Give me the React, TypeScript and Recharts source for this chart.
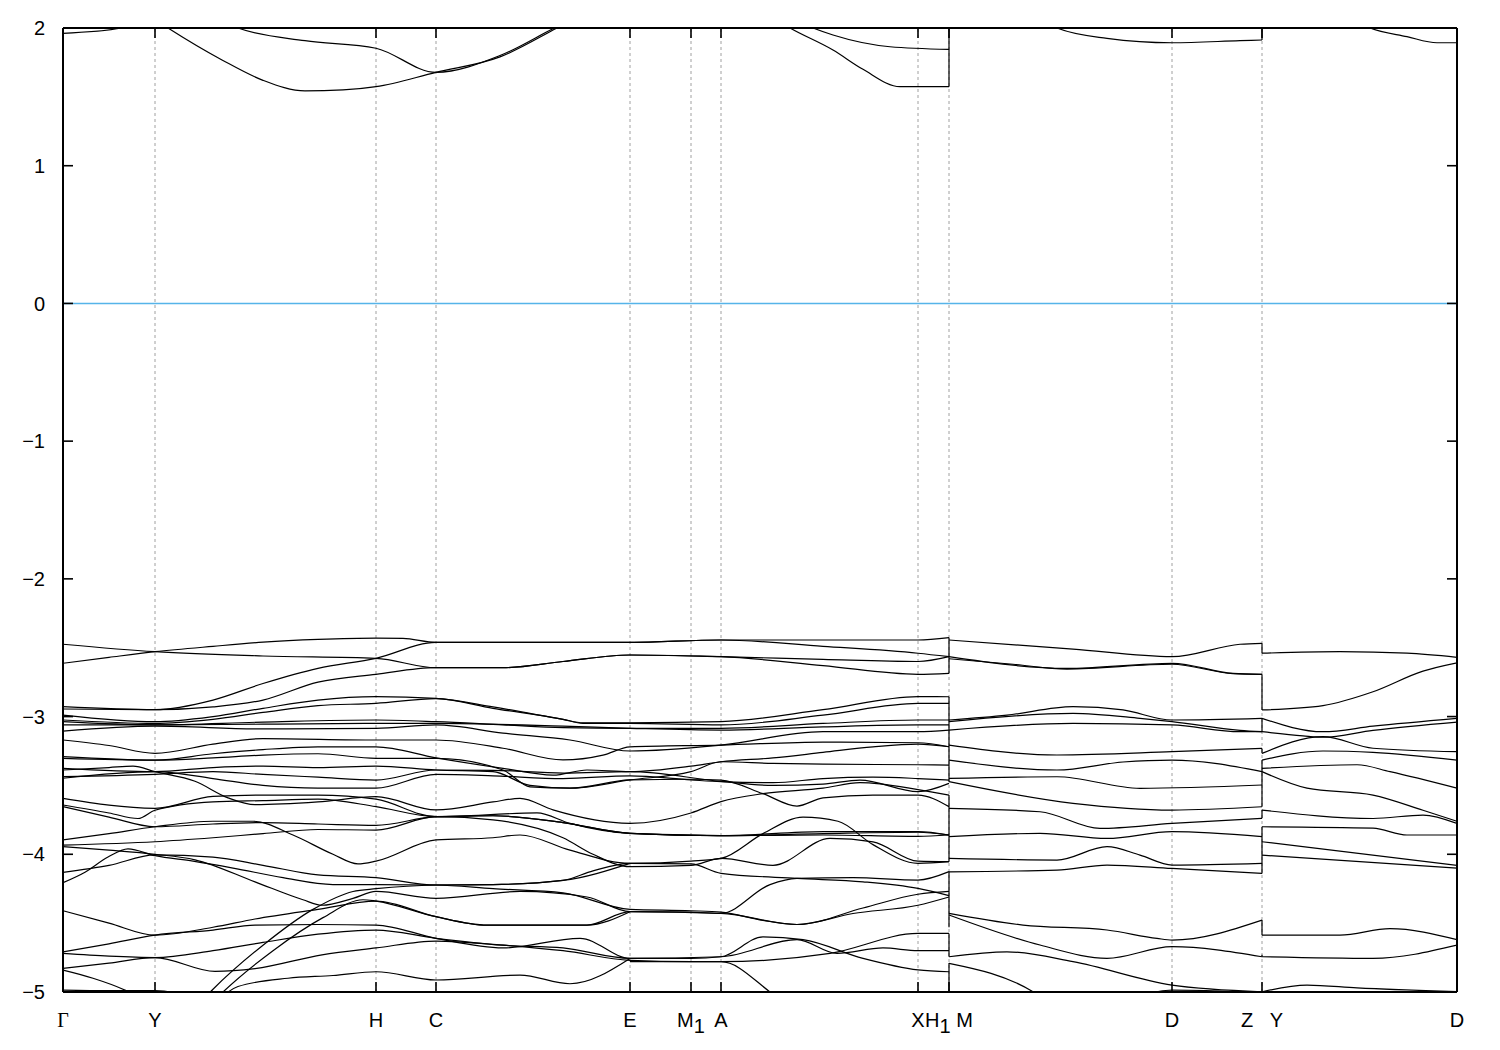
import React from "react";
import { LineChart, Line, XAxis, YAxis, ReferenceLine } from "recharts";

// ---- layout ----
const W = 1484;
const H = 1034;
const PL = 55;
const PR = 1449;
const PT = 20;
const PB = 984;
const FONT = "'Liberation Sans', Arial, Helvetica, sans-serif";

// ---- axes ----
const kTicks = [0, 92, 313, 373, 567, 628, 658, 855, 886, 1109, 1199, 1394];
const kLabels = ["Γ", "Y", "H", "C", "E", "M_1", "A", "X", "H_1 M", "D", "Z\u00a0\u00a0\u00a0Y", "D"];
const gridK = [92, 313, 373, 567, 628, 658, 855, 886, 1109, 1199];
const eTicks = [-5, -4, -3, -2, -1, 0, 1, 2];

// ---- conduction bands ----
const cbA = [[0, 1.961], [59, 2.0], [120, 2.15]];
const cbB = [[80, 2.12], [105, 2.0], [159, 1.768], [200, 1.62], [242, 1.543], [280, 1.55], [313, 1.574], [373, 1.678], [437, 1.79], [494, 2.0], [520, 2.1]];
const cbC = [[150, 2.08], [175, 2.0], [242, 1.908], [313, 1.853], [373, 1.678], [437, 1.8], [494, 2.01], [520, 2.1]];
const cbD = [[700, 2.12], [727, 2.0], [770, 1.84], [800, 1.7], [837, 1.574], [886, 1.574]];
const cbE = [[725, 2.08], [750, 2.0], [770, 1.949], [827, 1.864], [886, 1.845]];
const cbF = [[886, 2.4], [960, 2.15], [994, 2.0], [1044, 1.925], [1109, 1.893], [1177, 1.908], [1199, 1.913]];
const cbG = [[1199, 2.5], [1270, 2.15], [1307, 2.0], [1344, 1.937], [1374, 1.893], [1394, 1.893]];

// ---- valence bands, Γ → H1 ----
const vTA = [[0, -2.475], [92, -2.529], [200, -2.56], [313, -2.577], [373, -2.645], [440, -2.645], [500, -2.6], [567, -2.553], [658, -2.565], [760, -2.585], [855, -2.6], [886, -2.565]];
const vTB = [[0, -2.613], [46, -2.57], [92, -2.529], [150, -2.49], [200, -2.46], [255, -2.44], [313, -2.43], [340, -2.432], [373, -2.461], [567, -2.461], [658, -2.444], [855, -2.444], [886, -2.427]];
const vTC = [[0, -2.928], [92, -2.95], [150, -2.88], [200, -2.76], [255, -2.65], [313, -2.577], [373, -2.461], [567, -2.461], [658, -2.444], [760, -2.49], [855, -2.54], [886, -2.565]];
const vTD = [[0, -2.945], [92, -2.95], [150, -2.93], [200, -2.88], [255, -2.75], [313, -2.693], [373, -2.645], [440, -2.645], [500, -2.6], [567, -2.553], [658, -2.565], [760, -2.63], [855, -2.693], [886, -2.686]];
const vM1 = [[0, -2.989], [92, -3.037], [150, -3.0], [200, -2.94], [255, -2.88], [313, -2.855], [373, -2.868], [430, -2.93], [500, -3.02], [520, -3.045], [567, -3.045], [658, -3.037], [760, -2.95], [855, -2.855], [886, -2.856]];
const vM2 = [[0, -3.025], [92, -3.05], [150, -3.02], [200, -2.97], [255, -2.92], [313, -2.904], [373, -2.87], [430, -2.94], [500, -3.02], [520, -3.049], [567, -3.049], [658, -3.061], [760, -2.99], [855, -2.904], [886, -2.904]];
const vM3 = [[0, -3.037], [92, -3.06], [200, -3.04], [313, -3.025], [373, -3.037], [440, -3.06], [500, -3.08], [567, -3.085], [658, -3.085], [760, -3.05], [855, -3.025], [886, -3.025]];
const vM4 = [[0, -3.061], [92, -3.061], [200, -3.055], [313, -3.05], [373, -3.05], [500, -3.07], [567, -3.085], [658, -3.098], [760, -3.075], [855, -3.061], [886, -3.061]];
const vM5 = [[0, -3.105], [92, -3.07], [200, -3.09], [313, -3.085], [373, -3.061], [440, -3.12], [507, -3.17], [567, -3.25], [658, -3.207], [760, -3.11], [855, -3.11], [886, -3.098]];
const vM6 = [[0, -3.17], [46, -3.21], [92, -3.267], [150, -3.2], [200, -3.16], [313, -3.17], [373, -3.17], [440, -3.23], [500, -3.315], [540, -3.28], [567, -3.22], [658, -3.207], [760, -3.185], [855, -3.19], [886, -3.219]];
const vL7 = [[0, -3.291], [92, -3.316], [150, -3.27], [200, -3.24], [255, -3.22], [313, -3.22], [373, -3.3], [440, -3.376], [490, -3.425], [524, -3.388], [567, -3.4], [628, -3.36], [658, -3.328], [710, -3.3], [760, -3.26], [810, -3.22], [855, -3.2], [886, -3.219]];
const vL8 = [[0, -3.303], [92, -3.316], [150, -3.3], [200, -3.28], [255, -3.27], [313, -3.303], [373, -3.303], [440, -3.388], [467, -3.51], [507, -3.52], [567, -3.46], [628, -3.4], [658, -3.328], [710, -3.34], [760, -3.345], [855, -3.35], [886, -3.352]];
const vL9 = [[0, -3.376], [92, -3.4], [150, -3.37], [200, -3.36], [255, -3.37], [313, -3.36], [373, -3.388], [430, -3.4], [467, -3.5], [507, -3.52], [567, -3.46], [628, -3.455], [658, -3.461], [700, -3.56], [734, -3.65], [760, -3.59], [810, -3.57], [855, -3.57], [886, -3.654]];
const vL10 = [[0, -3.388], [46, -3.37], [70, -3.36], [92, -3.4], [132, -3.47], [165, -3.59], [192, -3.64], [255, -3.62], [313, -3.582], [373, -3.678], [430, -3.62], [457, -3.594], [490, -3.678], [567, -3.775], [628, -3.7], [658, -3.618], [700, -3.56], [760, -3.52], [797, -3.48], [855, -3.53], [886, -3.57]];
const vL11 = [[0, -3.436], [92, -3.42], [150, -3.4], [200, -3.42], [255, -3.44], [313, -3.461], [373, -3.388], [430, -3.39], [500, -3.41], [567, -3.4], [658, -3.47], [710, -3.5], [760, -3.49], [797, -3.461], [855, -3.545], [886, -3.485]];
const vL12 = [[0, -3.448], [92, -3.4], [150, -3.45], [200, -3.5], [255, -3.52], [313, -3.52], [373, -3.42], [430, -3.43], [500, -3.45], [567, -3.43], [628, -3.46], [658, -3.473], [710, -3.48], [760, -3.45], [810, -3.44], [855, -3.45], [886, -3.461]];
const vN1 = [[0, -3.594], [92, -3.666], [150, -3.58], [200, -3.57], [255, -3.57], [313, -3.6], [373, -3.727], [474, -3.7], [507, -3.775], [567, -3.848], [628, -3.86], [658, -3.865], [760, -3.835], [855, -3.835], [886, -3.86]];
const vN2 = [[0, -3.642], [46, -3.7], [75, -3.74], [92, -3.68], [150, -3.62], [200, -3.61], [255, -3.6], [313, -3.654], [373, -3.727], [430, -3.72], [500, -3.77], [567, -3.848], [658, -3.865], [760, -3.86], [855, -3.87], [886, -3.86]];
const vN3 = [[0, -3.654], [46, -3.73], [92, -3.8], [150, -3.78], [200, -3.77], [255, -3.78], [313, -3.79], [373, -3.727], [430, -3.72], [500, -3.77], [567, -3.848], [658, -3.865], [760, -3.85], [855, -3.84], [886, -3.86]];
const vP1 = [[0, -3.896], [46, -3.85], [92, -3.8], [150, -3.76], [190, -3.76], [230, -3.86], [270, -4.0], [295, -4.07], [313, -4.05], [373, -3.896], [430, -3.88], [457, -3.86], [507, -3.97], [567, -4.066], [628, -4.05], [658, -4.03], [700, -3.85], [740, -3.73], [775, -3.76], [810, -3.93], [855, -4.066], [886, -4.054]];
const vP2 = [[0, -3.933], [92, -3.909], [150, -3.88], [200, -3.85], [255, -3.82], [313, -3.824], [373, -3.727], [430, -3.75], [500, -3.88], [530, -4.0], [567, -4.09], [628, -4.08], [658, -4.03], [710, -4.08], [767, -3.885], [810, -3.91], [855, -4.05], [886, -4.054]];
const vP3 = [[0, -3.945], [46, -3.97], [92, -4.0], [132, -4.04], [192, -4.2], [240, -4.33], [259, -4.37], [290, -4.32], [313, -4.27], [373, -4.32], [457, -4.27], [524, -4.31], [567, -4.417], [628, -4.42], [658, -4.429], [707, -4.22], [734, -4.175], [790, -4.17], [855, -4.187], [886, -4.126]];
const vP4 = [[0, -4.131], [46, -4.08], [92, -4.005], [150, -4.02], [200, -4.08], [255, -4.15], [313, -4.17], [373, -4.223], [430, -4.22], [500, -4.19], [530, -4.12], [567, -4.066], [628, -4.07], [658, -4.138], [734, -4.175], [800, -4.2], [855, -4.248], [886, -4.3]];
const vP5 = [[0, -4.206], [22, -4.13], [45, -4.02], [65, -3.96], [92, -4.01], [130, -4.05], [170, -4.1], [220, -4.17], [270, -4.22], [313, -4.22], [373, -4.223], [430, -4.25], [500, -4.28], [567, -4.4], [628, -4.41], [658, -4.42], [700, -4.48], [734, -4.51], [790, -4.43], [855, -4.37], [886, -4.31]];
const vP6 = [[0, -4.41], [46, -4.5], [92, -4.587], [150, -4.53], [192, -4.47], [255, -4.4], [313, -4.34], [373, -4.453], [424, -4.514], [524, -4.514], [567, -4.417], [658, -4.429], [734, -4.51], [800, -4.39], [855, -4.29], [886, -4.27]];
const vB1 = [[0, -4.708], [46, -4.65], [92, -4.587], [150, -4.55], [192, -4.514], [255, -4.51], [313, -4.514], [373, -4.61], [440, -4.68], [517, -4.61], [567, -4.756], [628, -4.756], [658, -4.744], [700, -4.6], [740, -4.62], [800, -4.756], [855, -4.84], [886, -4.853]];
const vB2 = [[0, -4.72], [46, -4.74], [92, -4.75], [150, -4.7], [200, -4.64], [255, -4.58], [313, -4.55], [373, -4.61], [440, -4.66], [500, -4.68], [567, -4.756], [658, -4.744], [734, -4.62], [774, -4.72], [820, -4.68], [855, -4.7], [886, -4.7]];
const vB3 = [[0, -4.829], [46, -4.79], [92, -4.75], [152, -4.85], [192, -4.83], [259, -4.73], [313, -4.68], [373, -4.63], [440, -4.66], [500, -4.7], [567, -4.77], [628, -4.78], [658, -4.78], [767, -4.72], [855, -4.575], [886, -4.575]];
const vB4 = [[0, -4.841], [30, -4.9], [60, -4.98], [90, -5.1], [110, -5.3]];
const vB5 = [[0, -4.986], [46, -4.99], [92, -4.99], [130, -5.05], [160, -5.2]];
const vB6 = [[0, -4.998], [40, -5.05], [80, -5.2]];
const vB7 = [[567, -4.78], [658, -4.78], [707, -5.0], [740, -5.2]];
const vR1 = [[110, -5.3], [150, -4.98], [200, -4.66], [250, -4.4], [290, -4.27], [313, -4.25], [373, -4.223], [430, -4.22], [500, -4.19], [567, -4.066]];
const vR2 = [[120, -5.3], [160, -5.0], [210, -4.7], [260, -4.46], [300, -4.33], [313, -4.34], [373, -4.453], [424, -4.514], [524, -4.514], [567, -4.417]];
const vR3 = [[130, -5.3], [175, -4.96], [225, -4.9], [270, -4.88], [313, -4.853], [373, -4.913], [457, -4.877], [507, -4.94], [567, -4.756]];

// ---- valence bands, M → Z ----
const vS2a = [[886, -2.444], [1010, -2.51], [1109, -2.565], [1177, -2.475], [1199, -2.468]];
const vS2b = [[886, -2.565], [1004, -2.65], [1109, -2.613], [1170, -2.686], [1199, -2.693]];
const vS2c = [[886, -2.58], [950, -2.62], [1004, -2.655], [1109, -2.62], [1170, -2.688], [1199, -2.693]];
const vS2d = [[886, -3.025], [944, -2.99], [1010, -2.928], [1060, -2.952], [1109, -3.025], [1199, -3.013]];
const vS2e = [[886, -3.037], [1010, -2.977], [1077, -3.013], [1109, -3.037], [1177, -3.1], [1199, -3.11]];
const vS2f = [[886, -3.098], [1010, -3.049], [1109, -3.061], [1177, -3.11], [1199, -3.11]];
const vS2g = [[886, -3.207], [994, -3.279], [1109, -3.255], [1199, -3.231]];
const vS2h = [[886, -3.316], [994, -3.388], [1060, -3.33], [1109, -3.316], [1199, -3.4]];
const vS2i = [[886, -3.449], [994, -3.437], [1077, -3.521], [1199, -3.497]];
const vS2j = [[886, -3.473], [1010, -3.63], [1109, -3.679], [1199, -3.655]];
const vS2k = [[886, -3.667], [977, -3.691], [1037, -3.812], [1109, -3.776], [1199, -3.739]];
const vS2l = [[886, -3.872], [977, -3.848], [1044, -3.885], [1109, -3.836], [1199, -3.872]];
const vS2m = [[886, -4.03], [994, -4.042], [1044, -3.945], [1077, -4.006], [1109, -4.078], [1199, -4.066]];
const vS2n = [[886, -4.127], [994, -4.115], [1044, -4.078], [1109, -4.103], [1199, -4.139]];
const vS2o = [[886, -4.429], [960, -4.514], [1044, -4.55], [1094, -4.611], [1109, -4.623], [1199, -4.478]];
const vS2p = [[886, -4.441], [977, -4.659], [1044, -4.756], [1109, -4.671], [1199, -4.744]];
const vS2q = [[886, -4.744], [944, -4.708], [1010, -4.78], [1109, -4.95], [1199, -4.998]];
const vS2r = [[886, -4.792], [970, -4.998], [1000, -5.15]];
const vS2s = [[1040, -5.15], [1109, -4.986], [1177, -4.998], [1199, -5.02]];

// ---- valence bands, Y → D ----
const vS3a = [[1199, -2.54], [1277, -2.529], [1344, -2.54], [1394, -2.57]];
const vS3b = [[1199, -2.952], [1260, -2.92], [1310, -2.82], [1360, -2.67], [1394, -2.61]];
const vS3c = [[1199, -3.013], [1260, -3.11], [1310, -3.07], [1394, -3.013]];
const vS3d = [[1199, -3.11], [1240, -3.14], [1260, -3.15], [1310, -3.1], [1394, -3.04]];
const vS3e = [[1199, -3.267], [1260, -3.146], [1310, -3.23], [1394, -3.255]];
const vS3f = [[1199, -3.316], [1260, -3.25], [1310, -3.26], [1394, -3.316]];
const vS3g = [[1199, -3.376], [1294, -3.35], [1327, -3.4], [1394, -3.52]];
const vS3h = [[1199, -3.4], [1244, -3.52], [1310, -3.57], [1360, -3.68], [1394, -3.76]];
const vS3i = [[1199, -3.679], [1310, -3.74], [1360, -3.715], [1394, -3.776]];
const vS3j = [[1199, -3.8], [1310, -3.81], [1344, -3.86], [1394, -3.86]];
const vS3k = [[1199, -3.909], [1394, -4.08]];
const vS3l = [[1199, -4.006], [1394, -4.1]];
const vS3m = [[1199, -4.587], [1277, -4.587], [1327, -4.54], [1394, -4.62]];
const vS3n = [[1199, -4.744], [1310, -4.756], [1394, -4.66]];
const vS3o = [[1199, -4.998], [1244, -4.95], [1294, -4.97], [1394, -4.998]];

// ---- discontinuities (vertical joins) ----
const jumpHM = [[1.574, 2.4], [-2.427, -2.686], [-2.856, -3.473], [-3.57, -4.054], [-4.126, -4.53], [-4.575, -4.744], [-4.79, -5.1]];
const jumpZY = [[1.913, 2.4], [-2.468, -2.54], [-2.693, -2.952], [-3.013, -3.11], [-3.231, -3.267], [-3.316, -3.655], [-3.679, -3.739], [-3.8, -4.139], [-4.478, -4.587], [-4.73, -4.744]];
const kHM = 886;
const kZY = 1199;

const bands = [
  cbA, cbB, cbC, cbD, cbE, cbF, cbG,
  vTA, vTB, vTC, vTD, vM1, vM2, vM3, vM4, vM5, vM6,
  vL7, vL8, vL9, vL10, vL11, vL12, vN1, vN2, vN3,
  vP1, vP2, vP3, vP4, vP5, vP6, vB1, vB2, vB3, vB4, vB5, vB6, vB7, vR1, vR2, vR3,
  vS2a, vS2b, vS2c, vS2d, vS2e, vS2f, vS2g, vS2h, vS2i, vS2j, vS2k, vS2l, vS2m, vS2n, vS2o, vS2p, vS2q, vS2r, vS2s,
  vS3a, vS3b, vS3c, vS3d, vS3e, vS3f, vS3g, vS3h, vS3i, vS3j, vS3k, vS3l, vS3m, vS3n, vS3o,
];

const joins = [
  ...jumpHM.map(([a, b]) => [[kHM, a], [kHM, b]]),
  ...jumpZY.map(([a, b]) => [[kZY, a], [kZY, b]]),
];

const toPts = (arr: number[][]) => arr.map(([k, e]) => ({ k, e }));

// "M_1" -> M with lowered 1 (same size), following text restored to baseline
const renderLabel = (label: string) => {
  const parts: React.ReactNode[] = [];
  let key = 0;
  let buf = "";
  let pendingUp = false;
  let i = 0;
  const flush = () => {
    if (buf) {
      parts.push(
        <tspan key={key++} dy={pendingUp ? -6 : undefined}>
          {buf}
        </tspan>
      );
      pendingUp = false;
      buf = "";
    }
  };
  while (i < label.length) {
    if (label[i] === "_" && i + 1 < label.length) {
      flush();
      parts.push(
        <tspan key={key++} dy={6}>
          {label[i + 1]}
        </tspan>
      );
      pendingUp = true;
      i += 2;
    } else {
      buf += label[i];
      i += 1;
    }
  }
  flush();
  return parts;
};

const XTick = (props: any) => {
  const { x, payload } = props;
  const idx = kTicks.indexOf(payload.value);
  const label = idx >= 0 ? kLabels[idx] : "";
  const isGamma = label === "Γ";
  return (
    <g>
      <line x1={x} x2={x} y1={PB} y2={PB - 10} stroke="#000" strokeWidth={1.6} />
      <line x1={x} x2={x} y1={PT} y2={PT + 10} stroke="#000" strokeWidth={1.6} />
      <text
        x={x}
        y={PB + 35}
        textAnchor="middle"
        fontFamily={isGamma ? "'Liberation Serif', 'Times New Roman', serif" : FONT}
        fontSize={20}
        fill="#000"
      >
        {isGamma ? label : renderLabel(label)}
      </text>
    </g>
  );
};

const YTick = (props: any) => {
  const { y, payload } = props;
  const v = payload.value as number;
  const s = v < 0 ? "\u2212" + Math.abs(v) : String(v);
  return (
    <g>
      <line x1={PL} x2={PL + 10} y1={y} y2={y} stroke="#000" strokeWidth={1.6} />
      <line x1={PR - 10} x2={PR} y1={y} y2={y} stroke="#000" strokeWidth={1.6} />
      <text x={PL - 18} y={y} dy="0.36em" textAnchor="end" fontFamily={FONT} fontSize={20} fill="#000">
        {s}
      </text>
    </g>
  );
};

export default function App() {
  return (
    <div style={{ width: W, height: H, background: "#fff" }}>
      <LineChart width={W} height={H} margin={{ top: PT, right: W - PR, bottom: 0, left: 0 }}>
        <XAxis
          dataKey="k"
          type="number"
          domain={[0, 1394]}
          ticks={kTicks}
          interval={0}
          allowDataOverflow
          axisLine={false}
          tickLine={false}
          height={H - PB}
          tick={(p: any) => <XTick {...p} />}
        />
        <YAxis
          type="number"
          domain={[-5, 2]}
          ticks={eTicks}
          interval={0}
          allowDataOverflow
          axisLine={false}
          tickLine={false}
          width={PL}
          tick={(p: any) => <YTick {...p} />}
        />
        {gridK.map((k) => (
          <ReferenceLine key={"g" + k} x={k} stroke="#a0a0a0" strokeWidth={1} strokeDasharray="3 3" />
        ))}
        <ReferenceLine y={0} stroke="#56b4e9" strokeWidth={1.6} />
        {bands.map((b, i) => (
          <Line
            key={"b" + i}
            data={toPts(b)}
            dataKey="e"
            type="monotoneX"
            stroke="#000"
            strokeWidth={1.2}
            dot={false}
            activeDot={false}
            isAnimationActive={false}
          />
        ))}
        {joins.map((b, i) => (
          <Line
            key={"j" + i}
            data={toPts(b)}
            dataKey="e"
            type="linear"
            stroke="#000"
            strokeWidth={1.2}
            dot={false}
            activeDot={false}
            isAnimationActive={false}
          />
        ))}
        <ReferenceLine y={2} stroke="#000" strokeWidth={2} />
        <ReferenceLine y={-5} stroke="#000" strokeWidth={2} />
        <ReferenceLine x={0} stroke="#000" strokeWidth={2} />
        <ReferenceLine x={1394} stroke="#000" strokeWidth={2} />
      </LineChart>
    </div>
  );
}
